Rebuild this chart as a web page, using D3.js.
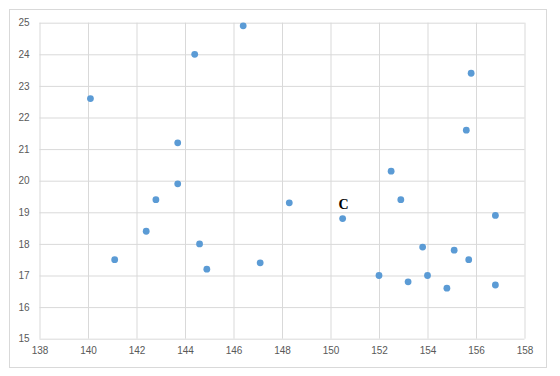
<!DOCTYPE html>
<html>
<head>
<meta charset="utf-8">
<script src="https://cdn.jsdelivr.net/npm/d3@7"></script>
<style>
  body { margin: 0; background: #fff; }
  svg text { font-family: "Liberation Sans", Arial, sans-serif; }
</style>
</head>
<body>
<script>
// x / y values
const xVals = [140.1, 141.1, 142.4, 142.8, 143.7, 143.7, 144.4, 144.6, 144.9, 146.4, 147.1, 148.3, 150.5,
               152.0, 152.5, 152.9, 153.2, 153.8, 154.0, 154.8, 155.1, 155.6, 155.8, 155.7, 156.8, 156.8];
const yVals = [22.6, 17.5, 18.4, 19.4, 21.2, 19.9, 24.0, 18.0, 17.2, 24.9, 17.4, 19.3, 18.8,
               17.0, 20.3, 19.4, 16.8, 17.9, 17.0, 16.6, 17.8, 21.6, 23.4, 17.5, 18.9, 16.7];
const pointLabels = ["", "", "", "", "", "", "", "", "", "", "", "", "C",
                     "", "", "", "", "", "", "", "", "", "", "", "", ""];
const xTicks = [138, 140, 142, 144, 146, 148, 150, 152, 154, 156, 158];
const yTicks = [15, 16, 17, 18, 19, 20, 21, 22, 23, 24, 25];

const width = 560, height = 376;
const plot = { left: 39.5, right: 524.5, top: 22.7, bottom: 338.7 };

const svg = d3.select("body").append("svg")
    .attr("width", width)
    .attr("height", height);

// outer chart frame
svg.append("rect")
    .attr("x", 9.5).attr("y", 9.5)
    .attr("width", 537).attr("height", 358)
    .attr("fill", "#fff")
    .attr("stroke", "#d9d9d9");

const xScale = d3.scaleLinear().domain([138, 158]).range([plot.left, plot.right]);
const yScale = d3.scaleLinear().domain([15, 25]).range([plot.bottom, plot.top]);

// gridlines
svg.append("g")
    .attr("transform", "translate(0," + plot.bottom + ")")
    .call(d3.axisBottom(xScale).tickValues(xTicks).tickSize(-(plot.bottom - plot.top)).tickFormat(""))
    .call(g => g.select(".domain").remove())
    .call(g => g.selectAll("line").attr("stroke", "#d9d9d9"));

svg.append("g")
    .attr("transform", "translate(" + plot.left + ",0)")
    .call(d3.axisLeft(yScale).tickValues(yTicks).tickSize(-(plot.right - plot.left)).tickFormat(""))
    .call(g => g.select(".domain").remove())
    .call(g => g.selectAll("line").attr("stroke", "#d9d9d9"));

// tick labels
const xAxis = svg.append("g")
    .attr("transform", "translate(0," + plot.bottom + ")")
    .call(d3.axisBottom(xScale).tickValues(xTicks).tickSize(0).tickPadding(8));
xAxis.select(".domain").remove();
xAxis.selectAll("text").attr("fill", "#595959").attr("font-size", 10);

const yAxis = svg.append("g")
    .attr("transform", "translate(" + plot.left + ",0)")
    .call(d3.axisLeft(yScale).tickValues(yTicks).tickSize(0).tickPadding(10));
yAxis.select(".domain").remove();
yAxis.selectAll("text").attr("fill", "#595959").attr("font-size", 10);

// points
const pts = xVals.map((x, i) => ({ x: x, y: yVals[i], label: pointLabels[i] }));

svg.append("g").selectAll("circle")
    .data(pts)
    .enter()
    .append("circle")
    .attr("cx", d => xScale(d.x))
    .attr("cy", d => yScale(d.y))
    .attr("r", 3.4)
    .attr("fill", "#5b9bd5");

svg.append("g").selectAll("text")
    .data(pts.filter(d => d.label))
    .enter()
    .append("text")
    .attr("x", d => xScale(d.x) + 1)
    .attr("y", d => yScale(d.y) - 10)
    .attr("text-anchor", "middle")
    .style("font-family", "'Liberation Serif', 'DejaVu Serif', serif")
    .attr("font-size", 14)
    .attr("font-weight", "bold")
    .attr("fill", "#000")
    .text(d => d.label);
</script>
</body>
</html>
